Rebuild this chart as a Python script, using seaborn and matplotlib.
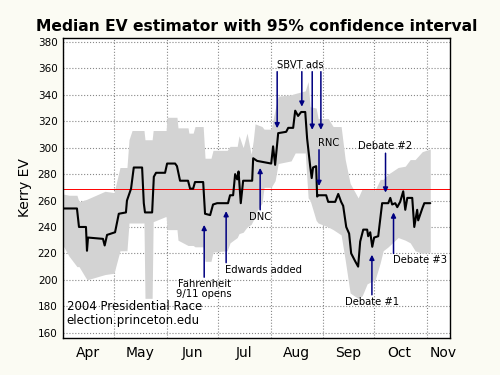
import matplotlib
matplotlib.use('Agg')
import numpy as np
import pandas as pd
import seaborn as sns
import matplotlib.pyplot as plt

# days counted from Apr 1, 2004
med_day = [0, 8.2, 9.4, 13.5, 14.1, 14.7, 23.5, 24.5, 25.9, 30.6, 32.8, 37, 37.6, 40, 41.6,
           46.5, 47.5, 48.2, 52.4, 53.4, 54.7, 60, 61.2, 65.9, 67, 68.8, 73.5, 74.7, 76.5,
           77.6, 82.4, 83.5, 86.5, 88.2, 90.6, 97, 98.2, 100, 101.2, 102.4, 103.2, 104.5,
           105.9, 111.2, 111.8, 114.1, 122.4, 123.5, 124.7, 126.5, 131.2, 132.4, 135.3,
           136.5, 138.2, 140, 142.4, 143.5, 145.3, 146.2, 147, 148.8, 149.4, 150, 154.7,
           155.9, 160, 161.8, 163.5, 164.7, 166.5, 168.2, 169.4, 171.8, 173.5, 174.7, 176.5,
           178.8, 179.4, 180.6, 181.8, 182.9, 185.3, 187.6, 191.2, 192.4, 193.5, 195.3,
           196.5, 198.2, 200, 201.2, 202.4, 204.1, 205.3, 206.5, 208.2, 208.8, 211.2, 212.4,
           215.9]
med_ev = [254, 254, 240, 240, 222, 232, 231, 226, 234, 236, 250, 251, 260, 269, 285,
          285, 258, 251, 251, 278, 281, 281, 288, 288, 286, 275, 275, 269, 269,
          274, 274, 250, 249, 257, 258, 258, 264, 264, 280, 276, 282, 258,
          275, 275, 292, 290, 288, 301, 287, 311, 312, 315, 315,
          328, 324, 327, 327, 307, 286, 277, 285, 286, 263, 264, 264,
          259, 259, 265, 259, 256, 240, 235, 220, 214, 210, 229, 238,
          238, 233, 236, 225, 232, 233, 258, 258, 262, 257, 258,
          255, 259, 267, 253, 262, 262, 262, 240, 253, 245, 254, 258,
          258]

band_day = [0, 3.5, 8.2, 9.4, 14.1, 24.7, 30, 33.5, 37.6, 38.8, 40.6, 47.6, 48.2, 52.4, 53,
            60.6, 61.2, 67, 67.6, 73.5, 74, 76.5, 77.6, 82.4, 83.5, 87, 88.2, 96.5, 98.2,
            102.4, 103.5, 105.9, 108.2, 110.6, 111.8, 112.9, 117, 118.2, 122.4, 124.7, 126.5,
            134.1, 136.5, 142.4, 144.1, 145.3, 148.8, 150, 155.9, 158.8, 163.5, 165.9, 168.8,
            173.5, 175.9, 178.8, 183.5, 186.5, 188.2, 191.2, 197, 201.2, 204.1, 207, 211.2,
            215.9]
band_lo = [226, 218, 210, 210, 200, 204, 205, 222, 222, 243, 243, 243, 186, 186, 244,
           248, 238, 238, 230, 226, 226, 226, 225, 225, 214, 214, 221, 222, 228,
           232, 235, 236, 240, 242, 245, 250, 258, 270, 270, 275, 288,
           290, 296, 296, 262, 260, 245, 243, 240, 238, 234, 215, 190,
           186, 188, 197, 200, 213, 222, 225, 232, 230, 228, 222, 220,
           221]
band_hi = [265, 264, 264, 259, 261, 267, 266, 285, 285, 306, 313, 313, 306, 306, 313,
           313, 323, 323, 315, 315, 311, 311, 316, 316, 292, 292, 298, 298, 301,
           301, 309, 300, 311, 295, 305, 318, 316, 314, 314, 329, 339,
           340, 341, 343, 350, 331, 330, 322, 322, 316, 316, 291, 273,
           262, 269, 269, 268, 276, 276, 280, 285, 286, 291, 291, 297,
           299]

month_starts = [0, 30, 61, 91, 122, 153, 183, 214]
month_pos = [14.7, 45.3, 75.9, 106.5, 137, 167.6, 197.6, 223.5]
month_names = ['Apr', 'May', 'Jun', 'Jul', 'Aug', 'Sep', 'Oct', 'Nov']

# label, label position, arrows as (day, tail EV, tip EV), alignment
notes = [
    ('Fahrenheit\n9/11 opens', (83, 202), [(83, 202, 241.6)], 'center', 'top'),
    ('Edwards added', (95.9, 213), [(95.9, 213, 252)], 'left', 'top'),
    ('DNC', (115.9, 253), [(115.9, 253, 284.7)], 'center', 'top'),
    ('SBVT ads', (139.5, 357.5), [(125.9, 357.5, 314.7), (140.4, 357.5, 331),
                                  (146.5, 357.5, 313.5), (151.6, 357.5, 313.5)], 'center', 'bottom'),
    ('RNC', (150.5, 298.4), [(150.5, 298.4, 271)], 'left', 'bottom'),
    ('Debate #2', (189.6, 295.8), [(189.6, 295.8, 266)], 'center', 'bottom'),
    ('Debate #3', (194.3, 220), [(194.3, 220, 251)], 'left', 'top'),
    ('Debate #1', (181.6, 188.7), [(181.6, 188.7, 219)], 'center', 'top'),
]

sns.set_style('white')
plt.rcParams['font.family'] = ['DejaVu Sans']
plt.rcParams['text.color'] = 'black'
plt.rcParams['axes.labelcolor'] = 'black'
plt.rcParams['xtick.color'] = 'black'
plt.rcParams['ytick.color'] = 'black'

fig = plt.figure(figsize=(5, 3.75), dpi=100, facecolor='#fbfbf3')
ax = fig.add_axes([0.126, 0.0987, 0.774, 0.8])
ax.set_facecolor('white')

ax.fill_between(band_day, band_lo, band_hi, color='#d3d3d3', lw=0, zorder=1)
ax.axhline(269, color='red', lw=0.7, zorder=2)
df = pd.DataFrame({'day': med_day, 'ev': med_ev})
sns.lineplot(data=df, x='day', y='ev', estimator=None, sort=False, color='black', lw=1.5, ax=ax, zorder=3)

for label, pos, arrows, ha, va in notes:
    for d, tail, tip in arrows:
        ax.annotate('', xy=(d, tip), xytext=(d, tail),
                    arrowprops=dict(arrowstyle='-|>', color='#000080', lw=1.1, mutation_scale=7,
                                    shrinkA=0, shrinkB=0), zorder=4)
    dy = -1.5 if va == 'top' else 1.5
    ax.text(pos[0] - (0.5 if ha == 'left' else 0), pos[1] + dy, label, ha=ha, va=va,
            fontsize=7.2, linespacing=1.0, zorder=5)

ax.text(2.2, 164, '2004 Presidential Race\nelection.princeton.edu', fontsize=8.5,
        ha='left', va='bottom', linespacing=1.1, zorder=5)

ax.set_xlim(0, 227.5)
ax.set_ylim(156, 383)
ax.set_yticks(range(160, 381, 20))
ax.set_xticks(month_starts)
ax.set_xticklabels([])
ax.set_xticks(month_pos, minor=True)
ax.set_xticklabels(month_names, minor=True, fontsize=10)
ax.tick_params(axis='x', which='both', length=0, pad=6)
ax.tick_params(axis='y', labelsize=7.5, direction='in', length=3, pad=4)
ax.grid(True, which='major', color='#888888', linestyle=':', lw=0.8)
ax.set_axisbelow(True)
for s in ax.spines.values():
    s.set_color('black')
    s.set_linewidth(1.0)
ax.set_xlabel('')
ax.set_ylabel('Kerry EV', fontsize=10, labelpad=4)
ax.set_title('Median EV estimator with 95% confidence interval', fontsize=11.2,
             fontweight='bold', pad=5)

fig.savefig('out.png', dpi=100, facecolor=fig.get_facecolor())
